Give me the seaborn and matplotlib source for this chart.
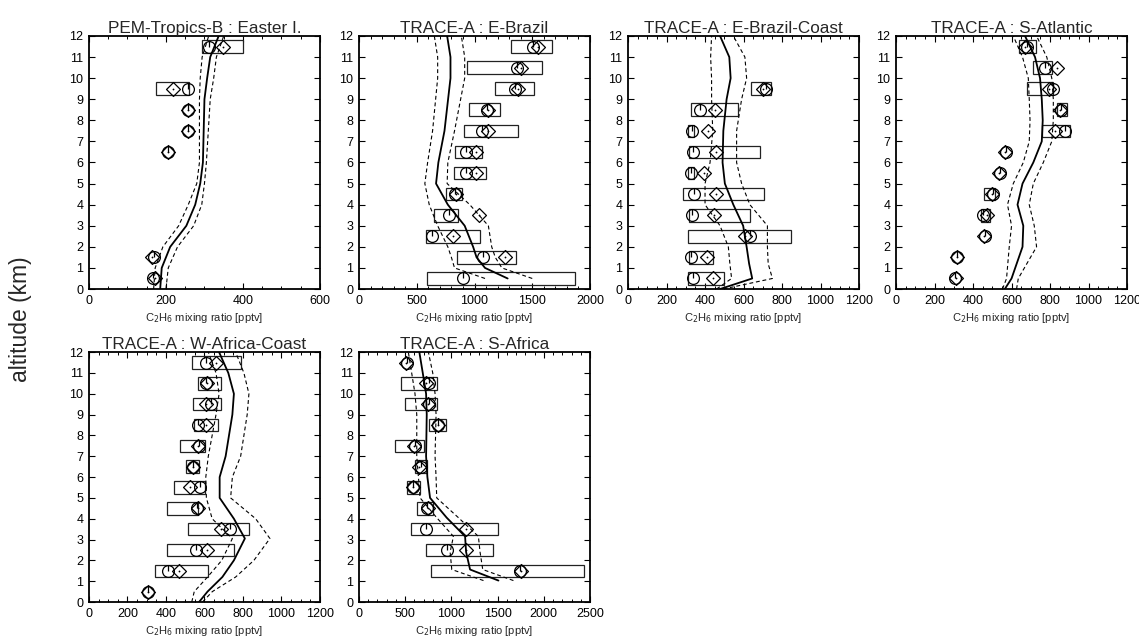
import numpy as np
import matplotlib
matplotlib.use("Agg")
import matplotlib.pyplot as plt
from matplotlib.path import Path
from matplotlib.ticker import MultipleLocator
import seaborn as sns

nan = np.nan

# ---------------- observations and model profiles ----------------
titles = ["PEM-Tropics-B : Easter I.", "TRACE-A : E-Brazil", "TRACE-A : E-Brazil-Coast",
          "TRACE-A : S-Atlantic", "TRACE-A : W-Africa-Coast", "TRACE-A : S-Africa"]
x_max = [600, 2000, 1200, 1200, 1200, 2500]
x_major = [200, 500, 200, 200, 200, 500]
x_minor = [50, 100, 50, 50, 50, 100]

# PEM-Tropics-B : Easter I.
alt_1 = [0.5, 1.5, 6.5, 7.5, 8.5, 9.5, 11.5]
median_1 = [167, 169, 205, 257, 258, 257, 313]
mean_1 = [172, 165, 205, 257, 258, 218, 348]
q25_1 = [nan, nan, nan, nan, nan, 174, 293]
q75_1 = [nan, nan, nan, nan, nan, 259, 400]
model_alt_1 = [0, 1, 2, 3, 4, 5, 6, 9, 10, 11, 12]
model_1 = [185, 189, 211, 253, 276, 289, 296, 300, 307, 315, 337]
model_lo_1 = [168, 172, 192, 233, 258, 280, 287, 287, 289, 294, 311]
model_hi_1 = [200, 206, 230, 272, 293, 300, 305, 315, 324, 331, 350]

# TRACE-A : E-Brazil
alt_2 = [0.5, 1.5, 2.5, 3.5, 4.5, 5.5, 6.5, 7.5, 8.5, 9.5, 10.5, 11.5]
median_2 = [901, 1070, 629, 778, 833, 924, 930, 1061, 1105, 1354, 1368, 1509]
mean_2 = [nan, 1266, 813, 1041, 842, 1009, 1017, 1120, 1120, 1377, 1406, 1553]
q25_2 = [585, 848, 579, 652, 757, 822, 833, 909, 953, 1178, 939, 1319]
q75_2 = [1874, 1363, 1047, 857, 892, 1099, 1061, 1374, 1222, 1515, 1582, 1675]
model_alt_2 = [0.5, 1, 1.5, 2, 3, 4, 5, 6, 7.5, 10, 11, 12]
model_2 = [1287, 1091, 1018, 988, 915, 769, 667, 687, 740, 792, 792, 763]
model_lo_2 = [1091, 827, 800, 769, 681, 608, 570, 594, 637, 681, 681, 652]
model_hi_2 = [1500, 1237, 1180, 1149, 1120, 959, 763, 769, 827, 915, 915, 886]

# TRACE-A : E-Brazil-Coast
alt_3 = [0.5, 1.5, 2.5, 3.5, 4.5, 5.5, 6.5, 7.5, 8.5, 9.5]
median_3 = [340, 328, 636, 331, 345, 328, 336, 331, 374, 719]
mean_3 = [443, 409, 607, 447, 457, 397, 457, 417, 452, 702]
q25_3 = [314, 319, 310, 319, 288, 312, 319, 314, 326, 641]
q75_3 = [500, 440, 848, 633, 707, 345, 684, 345, 572, 741]
model_alt_3 = [0, 0.5, 1.2, 2, 3, 4, 5, 6, 7.5, 9, 10, 11, 12]
model_3 = [478, 645, 629, 616, 598, 547, 503, 491, 495, 512, 533, 526, 478]
model_lo_3 = [460, 538, 529, 521, 478, 400, 400, 426, 440, 434, 434, 429, 434]
model_hi_3 = [495, 750, 728, 724, 724, 633, 590, 564, 564, 590, 616, 607, 547]

# TRACE-A : S-Atlantic
alt_4 = [0.5, 1.5, 2.5, 3.5, 4.5, 5.5, 6.5, 7.5, 8.5, 9.5, 10.5, 11.5]
median_4 = [304, 318, 461, 452, 504, 539, 569, 878, 857, 814, 774, 678]
mean_4 = [310, 317, 457, 473, 496, 534, 565, 826, 852, 795, 838, 670]
q25_4 = [nan, nan, nan, 443, 456, nan, nan, 757, 835, 682, 713, 638]
q75_4 = [nan, nan, nan, 487, 513, nan, nan, 904, 887, 814, 809, 725]
model_alt_4 = [0, 0.5, 2, 3, 4, 5, 6, 7, 8, 9, 10, 11, 12]
model_4 = [565, 600, 657, 661, 631, 657, 713, 757, 762, 757, 748, 722, 670]
model_lo_4 = [553, 574, 588, 600, 579, 609, 661, 692, 696, 692, 687, 657, 609]
model_hi_4 = [626, 635, 730, 718, 692, 713, 765, 809, 817, 817, 809, 783, 730]

# TRACE-A : W-Africa-Coast
alt_5 = [0.5, 1.5, 2.5, 3.5, 4.5, 5.5, 6.5, 7.5, 8.5, 9.5, 10.5, 11.5]
median_5 = [305, 412, 555, 731, 559, 576, 538, 572, 569, 636, 607, 607]
mean_5 = [309, 466, 612, 688, 564, 526, 538, 564, 607, 607, 612, 662]
q25_5 = [nan, 343, 403, 512, 403, 440, 503, 472, 547, 538, 569, 533]
q75_5 = [nan, 616, 753, 831, 569, 603, 572, 603, 671, 684, 688, 788]
model_alt_5 = [0, 0.5, 1.2, 2, 3.05, 4, 5, 6, 7, 9, 10, 11, 12]
model_5 = [572, 616, 693, 753, 810, 753, 679, 679, 710, 745, 753, 724, 676]
model_lo_5 = [534, 547, 616, 690, 745, 640, 610, 607, 620, 660, 676, 660, 620]
model_hi_5 = [590, 641, 762, 857, 940, 866, 736, 745, 788, 822, 831, 805, 762]

# TRACE-A : S-Africa
alt_6 = [1.5, 2.5, 3.5, 4.5, 5.5, 6.5, 7.5, 8.5, 9.5, 10.5, 11.5]
median_6 = [1744, 949, 722, 740, 588, 671, 606, 852, 762, 762, 516]
mean_6 = [1755, 1159, 1159, 751, 588, 653, 599, 859, 751, 726, 509]
q25_6 = [780, 722, 560, 632, 516, 606, 394, 762, 498, 451, nan]
q75_6 = [2430, 1448, 1502, 798, 661, 740, 708, 939, 848, 848, nan]
model_alt_6 = [1.03, 1.56, 2.4, 3.15, 4.05, 5, 6, 7, 9, 10, 11, 12]
model_6 = [1509, 1202, 1159, 1148, 949, 769, 740, 726, 733, 726, 690, 653]
model_lo_6 = [1347, 1004, 986, 1022, 841, 661, 643, 625, 625, 606, 570, 534]
model_hi_6 = [1671, 1339, 1310, 1292, 1076, 841, 834, 823, 834, 823, 798, 751]

panels = [
    (alt_1, median_1, mean_1, q25_1, q75_1, model_alt_1, model_1, model_lo_1, model_hi_1),
    (alt_2, median_2, mean_2, q25_2, q75_2, model_alt_2, model_2, model_lo_2, model_hi_2),
    (alt_3, median_3, mean_3, q25_3, q75_3, model_alt_3, model_3, model_lo_3, model_hi_3),
    (alt_4, median_4, mean_4, q25_4, q75_4, model_alt_4, model_4, model_lo_4, model_hi_4),
    (alt_5, median_5, mean_5, q25_5, q75_5, model_alt_5, model_5, model_lo_5, model_hi_5),
    (alt_6, median_6, mean_6, q25_6, q75_6, model_alt_6, model_6, model_lo_6, model_hi_6),
]

# ---------------- styling ----------------
sns.set_theme(style="ticks")
plt.rcParams["font.family"] = ["Liberation Sans", "DejaVu Sans"]
plt.rcParams["axes.linewidth"] = 1.3

# marker shapes: diamond and a short upward stem inside the median circle
diamond = Path([(0, 1), (1, 0), (0, -1), (-1, 0), (0, 1)],
               [Path.MOVETO, Path.LINETO, Path.LINETO, Path.LINETO, Path.CLOSEPOLY])
stem = Path([(0, 0), (0, 1)], [Path.MOVETO, Path.LINETO])

fig = plt.figure(figsize=(11.39, 6.39), dpi=100)
lefts = [0.0781, 0.3152, 0.5514, 0.7867]
rows = [(0.5477, 0.396), (0.0579, 0.391)]
w = 0.2028

for i, (alt, med, mean, lo, hi, malt, mod, mlo, mhi) in enumerate(panels):
    r, c = divmod(i, 4)
    ax = fig.add_axes([lefts[c], rows[r][0], w, rows[r][1]])

    alt = np.asarray(alt, float)
    med = np.asarray(med, float)
    mean = np.asarray(mean, float)
    lo = np.asarray(lo, float)
    hi = np.asarray(hi, float)

    # inter-quartile boxes
    has_box = ~np.isnan(lo)
    ax.barh(alt[has_box], hi[has_box] - lo[has_box], left=lo[has_box], height=0.6,
            fill=False, edgecolor="#222222", linewidth=0.9, zorder=2)

    # model mean and spread
    sns.lineplot(x=mod, y=malt, ax=ax, sort=False, estimator=None, orient="y",
                 color="black", linewidth=1.3, zorder=3)
    for band in (mlo, mhi):
        sns.lineplot(x=band, y=malt, ax=ax, sort=False, estimator=None, orient="y",
                     color="black", linewidth=0.8, dashes=False, linestyle=(0, (3.5, 2.5)),
                     zorder=3)

    # observed medians (circles) and means (diamonds)
    ok = ~np.isnan(med)
    sns.lineplot(x=med[ok], y=alt[ok], ax=ax, sort=False, estimator=None, orient="y",
                 linestyle="", marker="o", markersize=8.5, markerfacecolor="none",
                 markeredgecolor="black", markeredgewidth=0.9, color="black", zorder=4)
    sns.lineplot(x=med[ok], y=alt[ok], ax=ax, sort=False, estimator=None, orient="y",
                 linestyle="", marker=stem, markersize=8.5, markeredgecolor="black",
                 markeredgewidth=0.9, color="black", zorder=4)
    ok = ~np.isnan(mean)
    sns.lineplot(x=mean[ok], y=alt[ok], ax=ax, sort=False, estimator=None, orient="y",
                 linestyle="", marker=diamond, markersize=10, markerfacecolor="none",
                 markeredgecolor="black", markeredgewidth=0.9, color="black", zorder=4)
    sns.lineplot(x=mean[ok], y=alt[ok], ax=ax, sort=False, estimator=None, orient="y",
                 linestyle="", marker="o", markersize=1.3, markerfacecolor="black",
                 markeredgecolor="black", markeredgewidth=0, color="black", zorder=4)

    ax.set_xlim(0, x_max[i])
    ax.set_ylim(0, 12)
    ax.xaxis.set_major_locator(MultipleLocator(x_major[i]))
    ax.xaxis.set_minor_locator(MultipleLocator(x_minor[i]))
    ax.yaxis.set_major_locator(MultipleLocator(1))
    ax.tick_params(which="both", direction="in", top=True, right=True,
                   labelsize=9, colors="black", pad=4)
    ax.tick_params(which="major", length=4.5, width=0.8)
    ax.tick_params(which="minor", length=2.5, width=0.7)
    for s in ax.spines.values():
        s.set_color("black")
    ax.set_title(titles[i], fontsize=12.3, pad=1.5)
    ax.set_xlabel("C$_2$H$_6$ mixing ratio [pptv]", fontsize=8, labelpad=3)
    ax.set_ylabel("")

fig.text(0.018, 0.5, "altitude (km)", rotation=90, va="center", ha="center", fontsize=16.5)

fig.savefig("out.png", dpi=100)
